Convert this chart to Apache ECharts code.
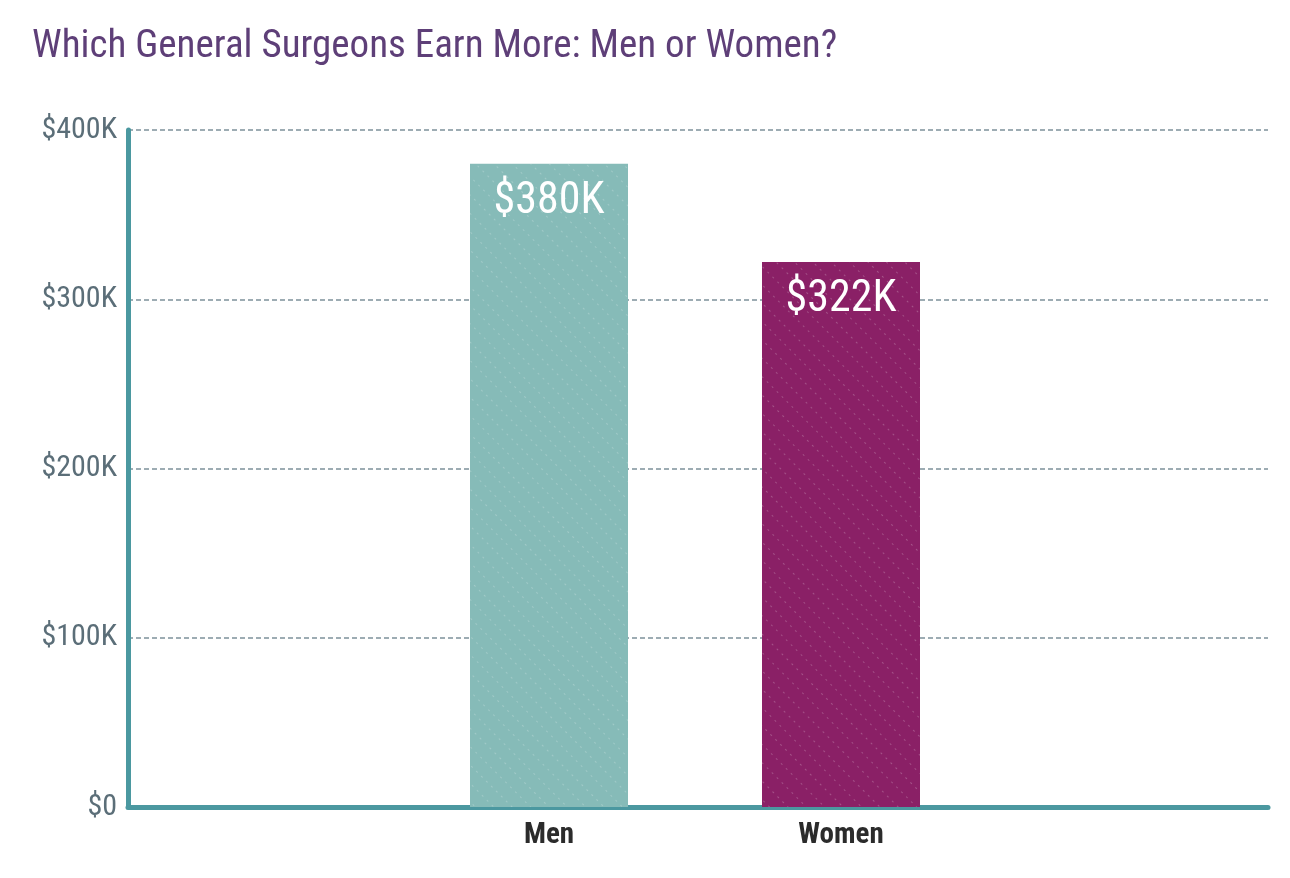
<!DOCTYPE html>
<html>
<head>
<meta charset="utf-8">
<script src="https://cdn.jsdelivr.net/npm/echarts@6/dist/echarts.min.js"></script>
<style>
html,body{margin:0;padding:0;background:#fff;}
#chart{width:1290px;height:878px;}
</style>
</head>
<body>
<div id="chart"></div>
<script>
const titleText = 'Which General Surgeons Earn More: Men or Women?';
const categories = ['Men', 'Women'];
const earningsK = [380, 322];
const barColors = ['#86bbb8', '#8a2066'];

const FONT = "'Roboto Condensed', 'Liberation Sans Narrow', 'Arial Narrow', Roboto, sans-serif";

const axisCats = [''].concat(categories, ['']);
const barData = [null].concat(earningsK.map((v, i) => ({
  value: v,
  itemStyle: {
    color: barColors[i],
    decal: {
      symbol: 'rect',
      symbolSize: 1,
      color: 'rgba(255,255,255,0.22)',
      dashArrayX: [2, 5],
      dashArrayY: [1, 12],
      rotation: Math.PI / 4
    }
  }
})), [null]);

const chart = echarts.init(document.getElementById('chart'), null, {renderer: 'canvas'});
chart.setOption({
  animation: false,
  backgroundColor: '#ffffff',
  textStyle: {fontFamily: FONT},
  title: {
    text: titleText,
    left: 27,
    top: 23,
    textStyle: {fontFamily: FONT, fontSize: 39, fontWeight: 'normal', color: '#5e3f78'}
  },
  grid: [
    {left: 128, right: 22, top: 130, bottom: 71, containLabel: false},
    {left: 111, right: 11, top: 130, bottom: 71, containLabel: false}
  ],
  xAxis: [
    {
      type: 'category', gridIndex: 0, data: axisCats,
      axisLine: {show: true, lineStyle: {color: '#4b98a0', width: 5, cap: 'round'}},
      axisTick: {show: false}, axisLabel: {show: false}, splitLine: {show: false}
    },
    {
      type: 'category', gridIndex: 1, data: axisCats,
      axisLine: {show: false}, axisTick: {show: false},
      axisLabel: {show: true, margin: 14, fontFamily: FONT, fontSize: 29, fontWeight: 'bold', color: '#2b2b2b'},
      splitLine: {show: false}
    }
  ],
  yAxis: [
    {
      type: 'value', gridIndex: 0, min: 0, max: 400, interval: 100,
      axisLine: {show: true, lineStyle: {color: '#4b98a0', width: 5, cap: 'round'}},
      axisTick: {show: false},
      axisLabel: {
        margin: 11, fontFamily: FONT, fontSize: 30, color: '#5b6e78',
        padding: [8, 0, 0, 0],
        formatter: v => v === 0 ? '$0' : '$' + v + 'K'
      },
      splitLine: {show: true, lineStyle: {color: '#7d919b', width: 1.5, type: [5, 3]}}
    },
    {
      type: 'value', gridIndex: 1, min: 0, max: 400, interval: 100,
      show: false
    }
  ],
  series: [{
    type: 'bar',
    xAxisIndex: 1, yAxisIndex: 1,
    data: barData,
    barWidth: 158,
    z: 1,
    label: {
      show: true, position: 'insideTop', distance: 16,
      fontFamily: FONT, fontSize: 44, color: '#ffffff',
      formatter: p => '$' + p.value + 'K'
    }
  }]
});
</script>
</body>
</html>
